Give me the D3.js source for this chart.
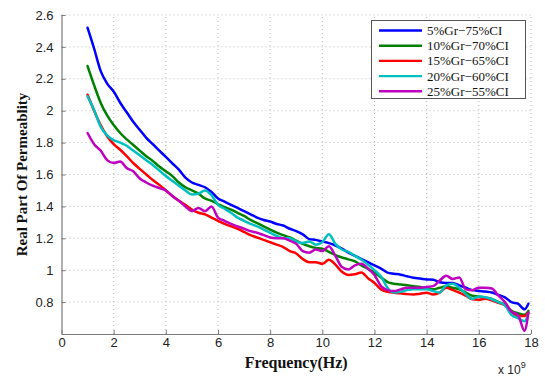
<!DOCTYPE html>
<html><head><meta charset="utf-8">
<script src="https://cdn.jsdelivr.net/npm/d3@7"></script>
<style>body{margin:0;background:#fff}svg{display:block}</style>
</head><body>
<script>
const freqGHz = [1,1.25,1.5,1.75,2,2.25,2.5,2.75,3,3.25,3.5,3.75,4,4.25,4.5,4.75,5,5.25,5.5,5.75,6,6.25,6.5,6.75,7,7.25,7.5,7.75,8,8.25,8.5,8.75,9,9.25,9.5,9.75,10,10.25,10.5,10.75,11,11.25,11.5,11.75,12,12.25,12.5,12.75,13,13.25,13.5,13.75,14,14.25,14.5,14.75,15,15.25,15.5,15.75,16,16.25,16.5,16.75,17,17.25,17.5,17.75,17.9];
const s5  = [2.52,2.39,2.25,2.17,2.12,2.05,1.99,1.93,1.88,1.83,1.79,1.75,1.71,1.67,1.63,1.58,1.55,1.535,1.52,1.49,1.45,1.43,1.41,1.39,1.37,1.35,1.33,1.315,1.305,1.29,1.28,1.26,1.245,1.225,1.195,1.19,1.18,1.17,1.155,1.135,1.11,1.09,1.07,1.05,1.03,1.01,0.985,0.978,0.972,0.962,0.953,0.948,0.942,0.94,0.925,0.92,0.92,0.905,0.89,0.875,0.87,0.866,0.86,0.845,0.83,0.80,0.79,0.755,0.79];
const s10 = [2.28,2.16,2.05,1.97,1.91,1.86,1.82,1.785,1.75,1.715,1.685,1.65,1.62,1.59,1.55,1.52,1.50,1.48,1.45,1.435,1.415,1.395,1.38,1.36,1.34,1.315,1.295,1.275,1.255,1.235,1.22,1.205,1.185,1.165,1.15,1.14,1.135,1.115,1.095,1.08,1.068,1.055,1.03,1.008,0.985,0.955,0.925,0.915,0.91,0.905,0.90,0.895,0.885,0.88,0.89,0.90,0.89,0.88,0.86,0.84,0.835,0.828,0.82,0.80,0.785,0.745,0.73,0.72,0.745];
const s15 = [2.10,2.00,1.91,1.84,1.79,1.755,1.715,1.672,1.635,1.60,1.565,1.535,1.50,1.465,1.435,1.41,1.38,1.36,1.35,1.33,1.31,1.29,1.275,1.26,1.24,1.22,1.205,1.19,1.175,1.16,1.145,1.12,1.105,1.07,1.05,1.05,1.04,1.065,1.035,0.99,0.97,0.975,0.985,0.95,0.92,0.88,0.865,0.858,0.855,0.85,0.848,0.853,0.858,0.848,0.86,0.89,0.875,0.86,0.84,0.818,0.815,0.821,0.81,0.795,0.78,0.74,0.713,0.713,0.735];
const s20 = [2.09,2.005,1.90,1.845,1.815,1.80,1.78,1.75,1.72,1.69,1.66,1.625,1.59,1.56,1.53,1.50,1.475,1.48,1.50,1.47,1.41,1.385,1.36,1.33,1.31,1.29,1.275,1.255,1.235,1.215,1.20,1.20,1.18,1.17,1.18,1.16,1.175,1.225,1.165,1.13,1.115,1.09,1.065,1.035,1.00,0.96,0.89,0.86,0.865,0.875,0.88,0.88,0.88,0.87,0.86,0.905,0.915,0.89,0.85,0.82,0.835,0.83,0.818,0.80,0.78,0.72,0.70,0.68,0.73];
const s25 = [1.86,1.79,1.75,1.69,1.672,1.682,1.64,1.62,1.575,1.55,1.53,1.515,1.50,1.465,1.435,1.40,1.37,1.39,1.37,1.40,1.33,1.31,1.29,1.275,1.26,1.245,1.235,1.22,1.205,1.20,1.20,1.185,1.165,1.12,1.11,1.13,1.12,1.15,1.09,1.02,1.005,1.03,1.04,1.01,0.97,0.90,0.875,0.869,0.88,0.89,0.89,0.89,0.895,0.90,0.935,0.965,0.945,0.955,0.88,0.875,0.89,0.89,0.885,0.84,0.80,0.74,0.72,0.62,0.735];
const seriesNames = ["5%Gr\u221275%CI","10%Gr\u221270%CI","15%Gr\u221265%CI","20%Gr\u221260%CI","25%Gr\u221255%CI"];
const seriesColors = ["#0000ff","#008000","#ff0000","#00bfbf","#bf00bf"];
const xTicks = [0,2,4,6,8,10,12,14,16,18];
const yTicks = [0.8,1,1.2,1.4,1.6,1.8,2,2.2,2.4,2.6];

const W = 545, H = 376;
const L = 61.5, R = 531, T = 15, B = 334;
const svg = d3.select("body").append("svg").attr("width", W).attr("height", H);
const x = d3.scaleLinear().domain([0, 18]).range([L, R]);
const y = d3.scaleLinear().domain([0.6, 2.6]).range([B, T]);

// grid
const grid = svg.append("g").attr("stroke", "#b8b8b8").attr("stroke-width", 1).attr("stroke-dasharray", "1,3");
xTicks.filter(d => d > 0).forEach(d => grid.append("line").attr("x1", x(d)).attr("x2", x(d)).attr("y1", B).attr("y2", T));
yTicks.forEach(d => grid.append("line").attr("x1", L).attr("x2", R).attr("y1", y(d)).attr("y2", y(d)));

// axes
const fmt = d => d3.format("")(+d.toFixed(1));
const xAxis = svg.append("g").attr("transform", `translate(0,${B})`)
  .call(d3.axisBottom(x).tickValues(xTicks).tickSize(-4).tickPadding(4).tickFormat(fmt));
const yAxis = svg.append("g").attr("transform", `translate(${L},0)`)
  .call(d3.axisLeft(y).tickValues(yTicks).tickSize(-4).tickPadding(8).tickFormat(fmt));
[xAxis, yAxis].forEach(a => {
  a.select(".domain").attr("stroke", "#7a7a7a").attr("stroke-width", 1.2);
  a.selectAll(".tick line").attr("stroke", "#7a7a7a");
  a.selectAll("text").attr("font-family", "Liberation Sans, Arial, sans-serif").attr("font-size", 13).attr("fill", "#222");
});
yAxis.select(".domain").attr("d", `M0.5,${B}V${T}`);
xAxis.select(".domain").attr("d", `M${L},0.5H${R}`);

// lines
const data = [s5, s10, s15, s20, s25];
const line = d3.line().x((d, i) => x(freqGHz[i])).y(d => y(d)).curve(d3.curveMonotoneX);
data.forEach((s, k) => {
  svg.append("path").datum(s).attr("d", line).attr("fill", "none")
    .attr("stroke", seriesColors[k]).attr("stroke-width", 2.5)
    .attr("stroke-linejoin", "round").attr("stroke-linecap", "round");
});

// labels
svg.append("text").attr("x", (L + R) / 2).attr("y", 368).attr("text-anchor", "middle")
  .attr("font-family", "Liberation Serif, Times New Roman, serif").attr("font-weight", "bold").attr("font-size", 16)
  .attr("fill", "#111").text("Frequency(Hz)");
svg.append("text").attr("transform", `translate(27,${(T + B) / 2}) rotate(-90)`).attr("text-anchor", "middle")
  .attr("font-family", "Liberation Serif, Times New Roman, serif").attr("font-weight", "bold").attr("font-size", 15)
  .attr("fill", "#111").text("Real Part Of Permeablity");
const ex = svg.append("text").attr("x", 498).attr("y", 374)
  .attr("font-family", "Liberation Sans, Arial, sans-serif").attr("font-size", 12).attr("fill", "#222");
ex.append("tspan").text("x 10");
ex.append("tspan").attr("dy", -6).attr("font-size", 9).text("9");

// legend
const lg = svg.append("g");
lg.append("rect").attr("x", 371.5).attr("y", 20.5).attr("width", 154).attr("height", 78)
  .attr("fill", "#fff").attr("stroke", "#555").attr("stroke-width", 1);
seriesNames.forEach((n, k) => {
  const yy = 30.5 + k * 15.2;
  lg.append("line").attr("x1", 379).attr("x2", 422).attr("y1", yy).attr("y2", yy)
    .attr("stroke", seriesColors[k]).attr("stroke-width", 2.4);
  lg.append("text").attr("x", 427).attr("y", yy + 4.5)
    .attr("font-family", "Liberation Serif, Times New Roman, serif").attr("font-size", 13).attr("fill", "#111").text(n);
});
</script>
</body></html>
